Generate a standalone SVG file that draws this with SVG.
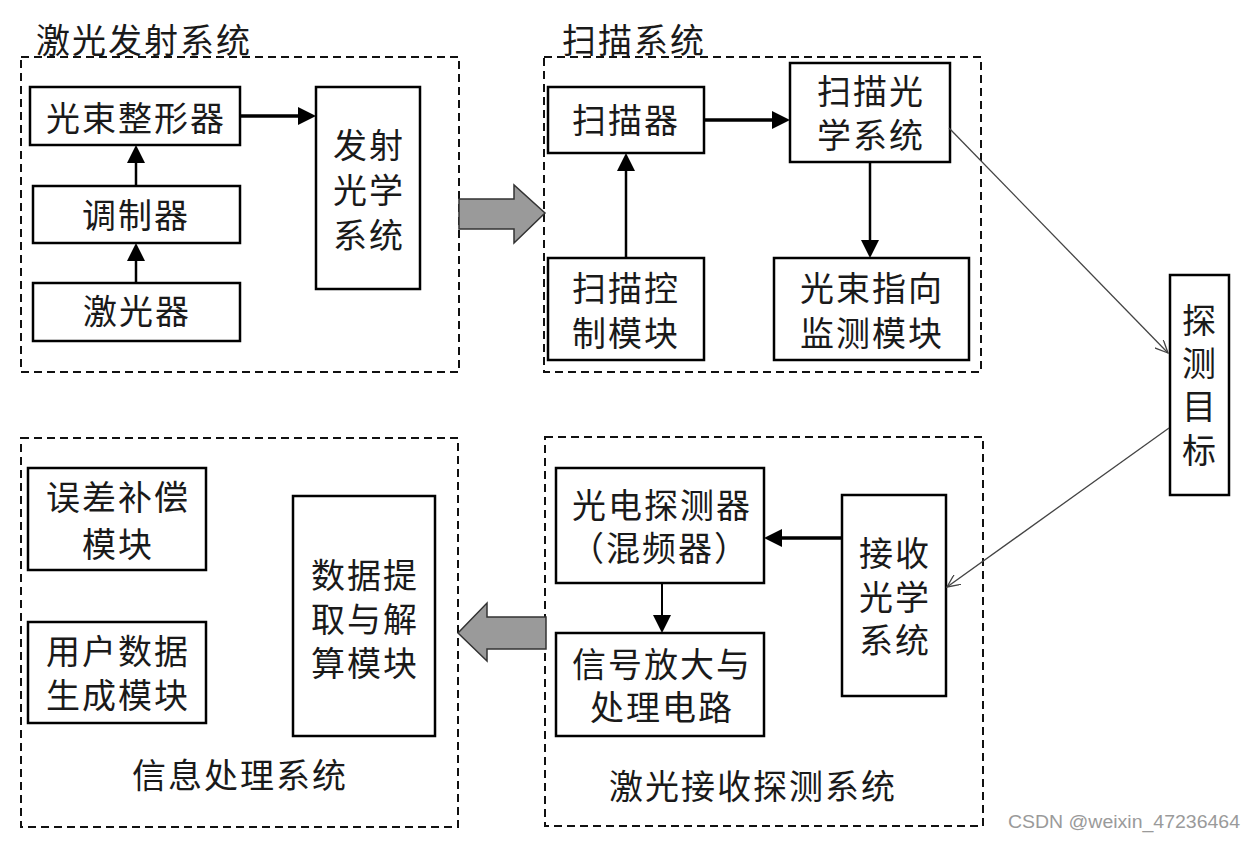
<svg xmlns="http://www.w3.org/2000/svg" width="1255" height="841" viewBox="0 0 1255 841">
<style>
text{font-family:"Liberation Sans","Noto Sans CJK SC",sans-serif;font-size:34px;fill:#1a1a1a;text-anchor:middle;dominant-baseline:central;letter-spacing:2px}
.title{text-anchor:start}
.box{fill:#fff;stroke:#000;stroke-width:2.5}
.group{fill:none;stroke:#111;stroke-width:2;stroke-dasharray:8 5}
.arr{stroke:#000;fill:none}
.thin{stroke:#444;stroke-width:1.3;fill:none}
.fat{fill:#9a9a9a;stroke:#333;stroke-width:1.5}
.wm{font-family:"Liberation Sans",Arial,sans-serif;font-size:18px;fill:#9a9a9a;letter-spacing:0}
</style>
<defs>
<marker id="ah" markerUnits="userSpaceOnUse" markerWidth="18" markerHeight="18" viewBox="0 0 18 18" refX="8" refY="9" orient="auto">
<path d="M0,0 L18,9 L0,18 z" fill="#000"/>
</marker>
<marker id="oh" markerUnits="userSpaceOnUse" markerWidth="14" markerHeight="12" viewBox="0 0 14 12" refX="13" refY="6" orient="auto">
<path d="M0,0 L13,6 L0,12" fill="none" stroke="#444" stroke-width="1.3"/>
</marker>
</defs>
<rect width="1255" height="841" fill="#fff"/>

<g id="sys-emit">
<rect class="group" x="21" y="57" width="438" height="315"/>
<text class="title" x="36" y="41">激光发射系统</text>
</g>
<g id="sys-scan">
<rect class="group" x="544" y="57" width="437" height="315"/>
<text class="title" x="562" y="41">扫描系统</text>
</g>
<g id="sys-info">
<rect class="group" x="21" y="438" width="437" height="389"/>
<text x="240" y="776">信息处理系统</text>
</g>
<g id="sys-recv">
<rect class="group" x="545" y="437" width="438" height="389"/>
<text x="753" y="787">激光接收探测系统</text>
</g>

<g id="beam-shaper"><rect class="box" x="30" y="87" width="210" height="58"/><text x="136" y="119">光束整形器</text></g>
<g id="modulator"><rect class="box" x="33" y="186" width="207" height="57"/><text x="136" y="216">调制器</text></g>
<g id="laser"><rect class="box" x="33" y="283" width="207" height="58"/><text x="137" y="312">激光器</text></g>
<g id="emit-optics"><rect class="box" x="316" y="87" width="104" height="202"/>
<text><tspan x="369" y="146">发射</tspan><tspan x="369" y="191">光学</tspan><tspan x="369" y="236">系统</tspan></text></g>

<g id="scanner"><rect class="box" x="548" y="87" width="156" height="66"/><text x="626" y="121">扫描器</text></g>
<g id="scan-optics"><rect class="box" x="790" y="63" width="160" height="99"/>
<text><tspan x="871" y="92">扫描光</tspan><tspan x="871" y="136">学系统</tspan></text></g>
<g id="scan-ctrl"><rect class="box" x="548" y="258" width="156" height="102"/>
<text><tspan x="626" y="289">扫描控</tspan><tspan x="626" y="334">制模块</tspan></text></g>
<g id="beam-monitor"><rect class="box" x="774" y="258" width="195" height="102"/>
<text><tspan x="872" y="289">光束指向</tspan><tspan x="872" y="334">监测模块</tspan></text></g>

<g id="target"><rect class="box" x="1170" y="275" width="59" height="220"/>
<text><tspan x="1200" y="321">探</tspan><tspan x="1200" y="364">测</tspan><tspan x="1200" y="407">目</tspan><tspan x="1200" y="451">标</tspan></text></g>

<g id="photodetector"><rect class="box" x="556" y="468" width="208" height="115"/>
<text><tspan x="662" y="506">光电探测器</tspan><tspan x="660" y="549">（混频器）</tspan></text></g>
<g id="amp"><rect class="box" x="556" y="633" width="208" height="103"/>
<text><tspan x="662" y="665">信号放大与</tspan><tspan x="662" y="708">处理电路</tspan></text></g>
<g id="recv-optics"><rect class="box" x="842" y="495" width="104" height="201"/>
<text><tspan x="895" y="554">接收</tspan><tspan x="895" y="598">光学</tspan><tspan x="895" y="641">系统</tspan></text></g>

<g id="err-comp"><rect class="box" x="28" y="468" width="178" height="102"/>
<text><tspan x="118" y="498">误差补偿</tspan><tspan x="118" y="545">模块</tspan></text></g>
<g id="user-data"><rect class="box" x="28" y="622" width="178" height="101"/>
<text><tspan x="118" y="652">用户数据</tspan><tspan x="118" y="696">生成模块</tspan></text></g>
<g id="data-extract"><rect class="box" x="293" y="496" width="142" height="240"/>
<text><tspan x="365" y="576">数据提</tspan><tspan x="365" y="620">取与解</tspan><tspan x="365" y="664">算模块</tspan></text></g>

<g id="connectors">
<line class="arr" stroke-width="3.5" x1="240" y1="116" x2="306" y2="116" marker-end="url(#ah)"/>
<line class="arr" stroke-width="2.5" x1="136" y1="186" x2="136" y2="155" marker-end="url(#ah)"/>
<line class="arr" stroke-width="2.5" x1="136" y1="283" x2="136" y2="253" marker-end="url(#ah)"/>
<line class="arr" stroke-width="3.5" x1="704" y1="120" x2="780" y2="120" marker-end="url(#ah)"/>
<line class="arr" stroke-width="2.5" x1="626" y1="258" x2="626" y2="163" marker-end="url(#ah)"/>
<line class="arr" stroke-width="2.5" x1="870" y1="162" x2="870" y2="248" marker-end="url(#ah)"/>
<line class="arr" stroke-width="3.5" x1="842" y1="538" x2="774" y2="538" marker-end="url(#ah)"/>
<line class="arr" stroke-width="2" x1="662" y1="583" x2="662" y2="623" marker-end="url(#ah)"/>
<line class="thin" x1="949" y1="128" x2="1168" y2="353" marker-end="url(#oh)"/>
<line class="thin" x1="1169" y1="428" x2="947" y2="587" marker-end="url(#oh)"/>
<polygon class="fat" points="459,199 514,199 514,185 545,213 514,243 514,229 459,229"/>
<polygon class="fat" points="546,617 487,617 487,603 458,633 487,661 487,649 546,649"/>
</g>

<text class="wm" x="1124" y="822" textLength="232" lengthAdjust="spacingAndGlyphs">CSDN @weixin_47236464</text>
</svg>
